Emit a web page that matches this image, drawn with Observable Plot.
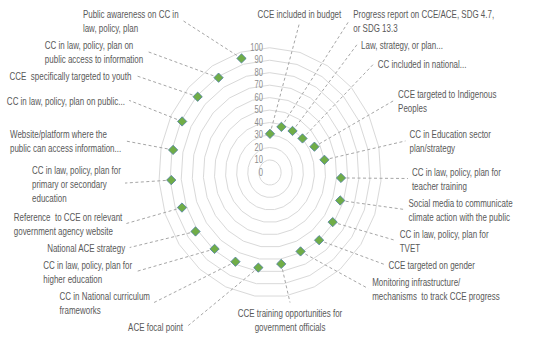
<!DOCTYPE html>
<html><head><meta charset="utf-8">
<script src="https://cdn.jsdelivr.net/npm/d3@7"></script>
<script src="https://cdn.jsdelivr.net/npm/@observablehq/plot@0.6"></script>
<style>
html,body{margin:0;padding:0;background:#fff;}
#chart svg{display:block;}
#chart svg text{white-space:pre;}
</style></head><body><div id="chart"></div>
<script>
// ---- data ----
const categories = [
 "CCE included in budget",
 "Progress report on CCE/ACE, SDG 4.7,\nor SDG 13.3",
 "Law, strategy, or plan...",
 "CC included in national...",
 "CCE targeted to Indigenous\nPeoples",
 "CC in Education sector\nplan/strategy",
 "CC in law, policy, plan for\nteacher training",
 "Social media to communicate\nclimate action with the public",
 "CC in law, policy, plan for\nTVET",
 "CCE targeted on gender",
 "Monitoring infrastructure/\nmechanisms  to track CCE progress",
 "CCE training opportunities for\ngovernment officials",
 "ACE focal point",
 "CC in National curriculum\nframeworks",
 "CC in law, policy, plan for\nhigher education",
 "National ACE strategy",
 "Reference  to CCE on relevant\ngovernment agency website",
 "CC in law, policy, plan for\nprimary or secondary\neducation",
 "Website/platform where the\npublic can access information...",
 "CC in law, policy, plan on public...",
 "CCE  specifically targeted to youth",
 "CC in law, policy, plan on\npublic access to information",
 "Public awareness on CC in\nlaw, policy, plan"
];
const values = [31, 38, 39, 40, 45, 50, 64, 67, 69, 70, 69, 74, 77, 78, 79, 82, 84, 89, 89, 89, 89, 89, 95];
const tickValues = [0, 10, 20, 30, 40, 50, 60, 70, 80, 90, 100];

// ---- layout ----
const W = 544, H = 357;
const X_RANGE = [158.3, 380.7], Y_RANGE = [296.7, 47.3];
const FONT = '"Liberation Sans", Arial, sans-serif';
const FONT_SIZE = 10.5, LINE_H = 14, SQUEEZE = 0.76;
const xs = d3.scaleLinear([-100, 100], X_RANGE);
const ys = d3.scaleLinear([-100, 100], Y_RANGE);
const n = categories.length;
const ang = i => 2 * Math.PI * i / n;
const cxp = xs(0), cyp = ys(0);
const ux = xs(1) - xs(0), uy = ys(0) - ys(1);

const points = categories.map((c, i) => ({
  cat: c, v: values[i],
  x: values[i] * Math.sin(ang(i)), y: values[i] * Math.cos(ang(i))
}));

const rings = [];
for (const L of tickValues.slice(1))
  for (let i = 0; i < n; i++) rings.push({L, x: L * Math.sin(ang(i)), y: L * Math.cos(ang(i))});

// label placement (computed from the category angles)
const ctx = document.createElement("canvas").getContext("2d");
ctx.font = `${FONT_SIZE}px ${FONT}`;
const blockW = s => SQUEEZE * d3.max(s.split("\n"), l => ctx.measureText(l).width);
const A0 = 138, B0 = 165, TOP = 6, BOTTOM = 333;
const shape = {right: {A: 138, B: 165, p: 2}, left: {A: 145, B: 165, p: 3}};
const bottomIndex = Math.floor(n / 2);

const labels = points.map((d, i) => {
  const s = Math.sin(ang(i)), c = Math.cos(ang(i));
  const dx = ux * s, dy = uy * c;
  const t = 1 / Math.hypot(dx / A0, dy / B0);
  const lines = d.cat.split("\n").length;
  return {i, text: d.cat, lines, h: lines * LINE_H, w: blockW(d.cat),
    side: i === bottomIndex ? "bottom" : Math.abs(s) < 0.1 ? "mid" : s > 0 ? "right" : "left",
    ay: cyp - t * dy, ax: cxp + t * dx, px: d.x, py: d.y};
});

// top label: nudged right so its leader clears the value-axis labels
const mid = labels.filter(l => l.side === "mid");
for (const l of mid) { l.cy = Math.max(l.ay, TOP + l.h / 2); l.axp = cxp + 0.35 * l.w; }
const midBottom = d3.max(mid, l => l.cy + l.h / 2) ?? 0;
const midRight = d3.max(mid, l => l.axp + l.w / 2) ?? cxp;
const midLeft = d3.min(mid, l => l.axp - l.w / 2) ?? cxp;

// bottom label: centred under its leader
const bot = labels.filter(l => l.side === "bottom");
for (const l of bot) { l.cy = BOTTOM - l.h / 2; l.axp = l.ax; }
const botTop = d3.min(bot, l => l.cy - l.h / 2) ?? BOTTOM;

for (const side of ["right", "left"]) {
  const limit = side === "right" ? botTop - 3 : BOTTOM;
  const g = labels.filter(l => l.side === side).sort((a, b) => a.ay - b.ay);
  g.forEach(l => l.cy = l.ay);
  for (let k = 0; k < g.length; k++) {
    let lo = TOP + g[k].h / 2;
    if (k > 0) lo = Math.max(lo, g[k - 1].cy + (g[k - 1].h + g[k].h) / 2 + 3);
    g[k].cy = Math.max(g[k].cy, lo);
  }
  for (let k = g.length - 1; k >= 0; k--) {
    let hi = limit - g[k].h / 2;
    if (k < g.length - 1) hi = Math.min(hi, g[k + 1].cy - (g[k + 1].h + g[k].h) / 2 - 3);
    g[k].cy = Math.min(g[k].cy, hi);
  }
  const {A, B, p} = shape[side];
  for (const l of g) {
    const v = Math.min(1, Math.abs((l.cy - cyp) / B));
    let off = A * Math.pow(1 - Math.pow(v, p), 1 / p);
    if (l.cy - l.h / 2 < midBottom + 4)
      off = Math.max(off, side === "right" ? midRight - cxp + 8 : cxp - midLeft + 8);
    l.axp = side === "right" ? cxp + off : cxp - off;
  }
}

for (const l of labels) {
  l.ex = xs.invert(l.axp);
  if (l.side === "mid") {
    l.ey = ys.invert(l.cy + l.h / 2 + 3);
    l.tx = xs.invert(l.axp);
  } else if (l.side === "bottom") {
    l.ey = ys.invert(l.cy - l.h / 2 - 3);
    l.tx = xs.invert(l.axp);
  } else {
    l.ey = ys.invert(l.cy);
    l.tx = xs.invert(l.side === "right" ? l.axp + 4 : l.axp - 4 - l.w);
  }
  l.ty = ys.invert(l.cy);
}

const textOpts = {x: "tx", y: "ty", text: "text", lineAnchor: "middle", lineHeight: LINE_H / FONT_SIZE, fontSize: FONT_SIZE, fill: "#595959"};
const chart = Plot.plot({
  width: W, height: H,
  margin: 0,
  x: {domain: [-100, 100], range: X_RANGE, axis: null},
  y: {domain: [-100, 100], range: Y_RANGE, axis: null},
  style: {fontFamily: FONT, background: "#fff"},
  marks: [
    Plot.line(rings, {x: "x", y: "y", z: "L", curve: "linear-closed", stroke: "#d9d9d9", strokeWidth: 1}),
    Plot.text(tickValues, {x: 0, y: d => d, text: d => String(d), textAnchor: "end", dx: -7, fontSize: 10, fill: "#8c8c8c"}),
    Plot.link(labels, {x1: "px", y1: "py", x2: "ex", y2: "ey", stroke: "#a6a6a6", strokeWidth: 1, strokeDasharray: "3,2.5"}),
    Plot.dot(points, {x: "x", y: "y", symbol: "diamond2", r: 4.2, fill: "#70ad47", stroke: "#4f7fa3", strokeWidth: 0.8}),
    Plot.text(labels.filter(l => l.side === "left" || l.side === "right"), {...textOpts, textAnchor: "start"}),
    Plot.text(labels.filter(l => l.side === "mid" || l.side === "bottom"), {...textOpts, textAnchor: "middle"})
  ]
});
// narrow the typeface horizontally (the reference uses a condensed face)
chart.querySelectorAll('g[aria-label="text"] text').forEach(t => {
  const tr = t.getAttribute("transform");
  if (tr) t.setAttribute("transform", tr + ` scale(${SQUEEZE},1)`);
  else {
    const x = +t.getAttribute("x") || 0;
    t.setAttribute("transform", `translate(${x},0) scale(${SQUEEZE},1)`);
    t.setAttribute("x", 0);
  }
});
document.getElementById("chart").append(chart);
</script>
</body></html>
